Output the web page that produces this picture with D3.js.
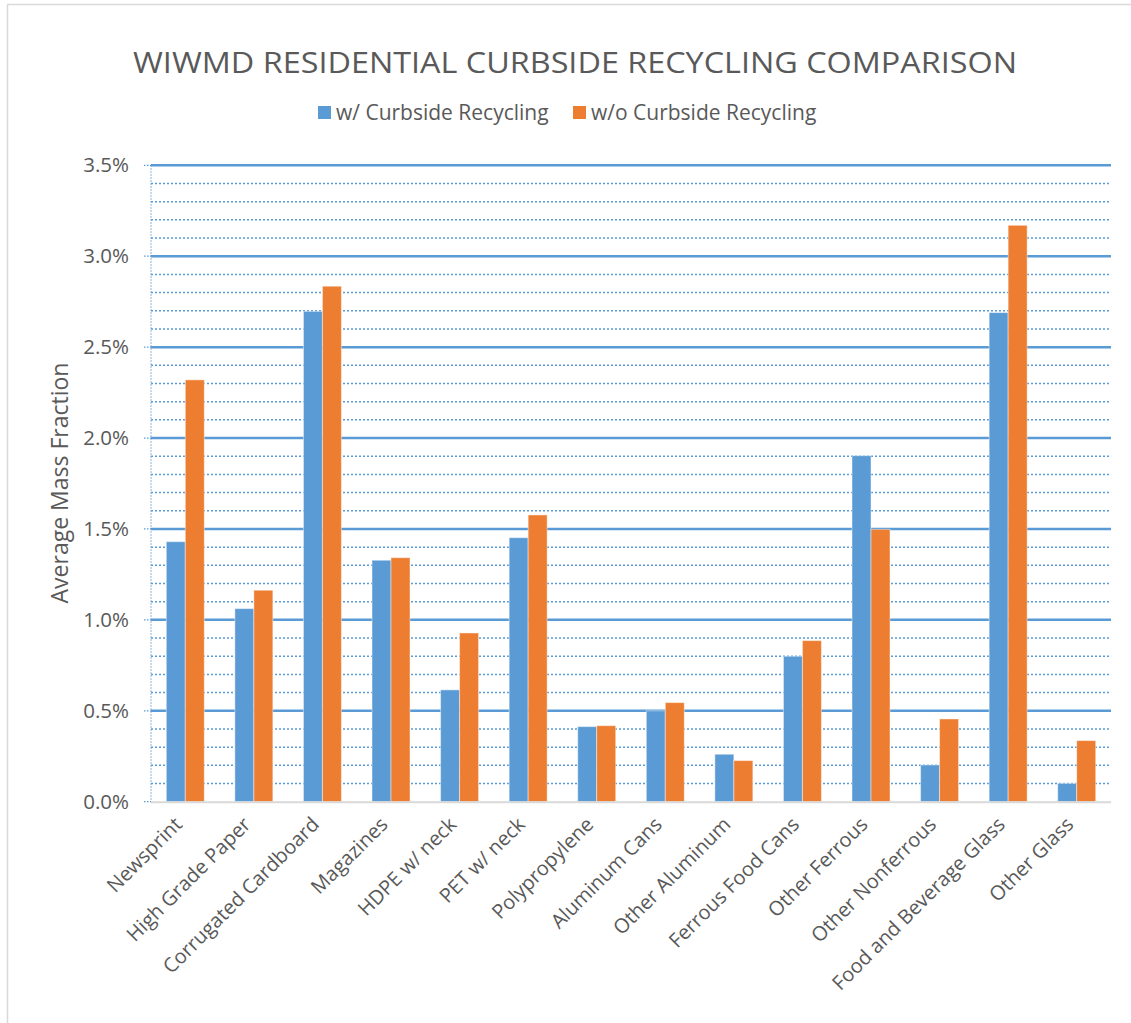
<!DOCTYPE html>
<html><head><meta charset="utf-8">
<script src="https://cdn.jsdelivr.net/npm/d3@7"></script>
<style>body{margin:0;background:#fff}svg{display:block}text{font-family:"Open Sans",sans-serif;fill:#595959}</style>
</head><body>
<script>
const categories = ["Newsprint","High Grade Paper","Corrugated Cardboard","Magazines","HDPE w/ neck","PET w/ neck","Polypropylene","Aluminum Cans","Other Aluminum","Ferrous Food Cans","Other Ferrous","Other Nonferrous","Food and Beverage Glass","Other Glass"];
const withCurbside = [1.43,1.062,2.697,1.328,0.615,1.452,0.413,0.50,0.261,0.80,1.903,0.202,2.69,0.101];
const withoutCurbside = [2.32,1.163,2.835,1.342,0.928,1.577,0.418,0.545,0.226,0.886,1.498,0.455,3.17,0.336];
const seriesNames = ["w/ Curbside Recycling","w/o Curbside Recycling"];
const majorTicks = [0,0.5,1.0,1.5,2.0,2.5,3.0,3.5];
const minorTicks = [0.1,0.2,0.3,0.4,0.6,0.7,0.8,0.9,1.1,1.2,1.3,1.4,1.6,1.7,1.8,1.9,2.1,2.2,2.3,2.4,2.6,2.7,2.8,2.9,3.1,3.2,3.3,3.4];
const colors = ["#5B9BD5","#ED7D31"];

(function(){
const W=1131,H=1023;
const svg=d3.select("body").append("svg").attr("width",W).attr("height",H);
svg.append("path").attr("d","M7.5,1030V4.5H1140").attr("fill","none").attr("stroke","#D9D9D9").attr("stroke-width",1.5);

const pL=151,pR=1111,pT=165.3,pB=801.7;
const y=d3.scaleLinear().domain([0,3.5]).range([pB,pT]);
const x=d3.scaleBand().domain(categories).range([pL,pR]).paddingInner(0.446).paddingOuter(0.223);
const xs=d3.scaleBand().domain([0,1]).range([0,x.bandwidth()]);

svg.append("g").selectAll("line").data(minorTicks).join("line")
  .attr("x1",pL).attr("x2",pR).attr("y1",d=>y(d)).attr("y2",d=>y(d))
  .attr("stroke","#5B9BD5").attr("stroke-width",1.5).attr("stroke-dasharray","2,2");
svg.append("g").selectAll("line").data(majorTicks.filter(d=>d>0)).join("line")
  .attr("x1",pL).attr("x2",pR).attr("y1",d=>y(d)).attr("y2",d=>y(d))
  .attr("stroke","#5B9BD5").attr("stroke-width",2.5);
svg.append("line").attr("x1",pL).attr("x2",pL).attr("y1",pT).attr("y2",pB)
  .attr("stroke","#5B9BD5").attr("stroke-width",1.2).attr("stroke-dasharray","1.5,1.5").attr("opacity",0.8);
svg.append("g").selectAll("line").data(majorTicks).join("line")
  .attr("x1",pL-7).attr("x2",pL).attr("y1",d=>y(d)).attr("y2",d=>y(d))
  .attr("stroke","#5B9BD5").attr("stroke-width",1.2).attr("stroke-dasharray","1.5,1.5");

const data=categories.map((c,i)=>({c,v:[withCurbside[i],withoutCurbside[i]]}));
const g=svg.append("g");
data.forEach(d=>{
  d.v.forEach((v,k)=>{
    g.append("rect").attr("x",x(d.c)+xs(k)).attr("width",xs.bandwidth())
      .attr("y",y(v)).attr("height",y(0)-y(v)).attr("fill",colors[k])
      .attr("stroke","#fff").attr("stroke-opacity",0.45).attr("stroke-width",1);
  });
});
svg.append("line").attr("x1",pL).attr("x2",pR).attr("y1",pB+0.5).attr("y2",pB+0.5)
  .attr("stroke","#D9D9D9").attr("stroke-width",2);

const yAxis=d3.axisLeft(y).tickValues(majorTicks).tickFormat(d=>d.toFixed(1)+"%").tickSize(0).tickPadding(22);
const ya=svg.append("g").attr("transform",`translate(${pL},0)`).call(yAxis);
ya.select(".domain").remove();
ya.selectAll("text").attr("font-size",20.5).attr("fill","#595959").style("font-family","'Open Sans',sans-serif");

const xAxis=d3.axisBottom(x).tickSize(0).tickPadding(0);
const xa=svg.append("g").attr("transform",`translate(0,${pB})`).call(xAxis);
xa.select(".domain").remove();
xa.selectAll("text").attr("font-size",20).attr("fill","#595959").style("font-family","'Open Sans',sans-serif")
  .attr("text-anchor","end").attr("dy",0).attr("y",0)
  .attr("transform","translate(-2,24) rotate(-45)");

svg.append("text").attr("transform","translate(68,483) rotate(-90)").attr("text-anchor","middle")
  .attr("font-size",23).text("Average Mass Fraction");

svg.append("text").attr("x",575).attr("y",73).attr("text-anchor","middle").attr("font-size",30)
  .attr("textLength",884).attr("lengthAdjust","spacingAndGlyphs").text("WIWMD RESIDENTIAL CURBSIDE RECYCLING COMPARISON");

const legX=[318,573];
seriesNames.forEach((n,k)=>{
  svg.append("rect").attr("x",legX[k]).attr("y",106).attr("width",13).attr("height",13).attr("fill",colors[k]);
  svg.append("text").attr("x",legX[k]+18).attr("y",120).attr("font-size",21).text(n);
});
})();
</script>
</body></html>
